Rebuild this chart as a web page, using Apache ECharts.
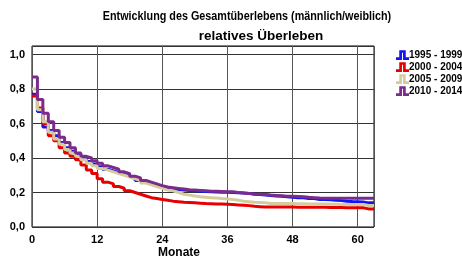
<!DOCTYPE html>
<html>
<head>
<meta charset="utf-8">
<script src="https://cdn.jsdelivr.net/npm/echarts@6/dist/echarts.min.js"></script>
<style>
  html, body { margin: 0; padding: 0; background: #fff; }
  #chart { width: 462px; height: 265px; }
</style>
</head>
<body>
<div id="chart"></div>
<script>
// Monate 0..63
var months = [];
for (var m = 0; m <= 63; m++) months.push(m);

var xTicks = [0, 12, 24, 36, 48, 60];
var yTicks = [0, 0.2, 0.4, 0.6, 0.8, 1.0];

var legendNames = ['1995 - 1999', '2000 - 2004', '2005 - 2009', '2010 - 2014'];

var s1995 = [0.77, 0.67, 0.58, 0.56, 0.53, 0.49, 0.46, 0.44, 0.42, 0.40, 0.38, 0.365,
  0.35, 0.335, 0.325, 0.315, 0.305, 0.295, 0.285, 0.27, 0.26, 0.25, 0.24, 0.23,
  0.225, 0.222, 0.218, 0.215, 0.212, 0.21, 0.208, 0.206, 0.204, 0.203, 0.202, 0.201,
  0.20, 0.198, 0.197, 0.195, 0.19, 0.188, 0.186, 0.183, 0.18, 0.178, 0.175, 0.172,
  0.17, 0.17, 0.165, 0.165, 0.16, 0.16, 0.158, 0.155, 0.153, 0.15, 0.148, 0.147,
  0.145, 0.14, 0.14, 0.14];

var s2000 = [0.76, 0.69, 0.60, 0.53, 0.50, 0.46, 0.43, 0.41, 0.39, 0.36, 0.33, 0.31,
  0.28, 0.26, 0.25, 0.235, 0.225, 0.21, 0.20, 0.19, 0.18, 0.17, 0.165, 0.16,
  0.155, 0.15, 0.147, 0.144, 0.142, 0.14, 0.138, 0.136, 0.135, 0.134, 0.133, 0.132,
  0.13, 0.128, 0.126, 0.124, 0.12, 0.118, 0.116, 0.116, 0.116, 0.116, 0.116, 0.116,
  0.115, 0.115, 0.115, 0.114, 0.114, 0.114, 0.113, 0.113, 0.113, 0.112, 0.112, 0.112,
  0.112, 0.105, 0.105, 0.105];

var s2005 = [0.80, 0.68, 0.61, 0.55, 0.51, 0.48, 0.45, 0.43, 0.41, 0.39, 0.37, 0.355,
  0.34, 0.33, 0.32, 0.31, 0.30, 0.29, 0.28, 0.27, 0.255, 0.245, 0.235, 0.225,
  0.215, 0.21, 0.20, 0.19, 0.185, 0.18, 0.175, 0.172, 0.17, 0.168, 0.165, 0.163,
  0.16, 0.155, 0.15, 0.147, 0.144, 0.142, 0.14, 0.137, 0.137, 0.137, 0.137, 0.137,
  0.135, 0.135, 0.134, 0.134, 0.133, 0.133, 0.132, 0.132, 0.131, 0.131, 0.13, 0.13,
  0.13, 0.125, 0.125, 0.125];

var s2010 = [0.87, 0.74, 0.66, 0.61, 0.56, 0.52, 0.49, 0.46, 0.43, 0.41, 0.40, 0.385,
  0.37, 0.355, 0.345, 0.335, 0.32, 0.31, 0.295, 0.285, 0.27, 0.26, 0.25, 0.24,
  0.232, 0.228, 0.224, 0.22, 0.216, 0.214, 0.212, 0.21, 0.208, 0.207, 0.206, 0.205,
  0.204, 0.20, 0.197, 0.195, 0.192, 0.19, 0.188, 0.185, 0.183, 0.181, 0.179, 0.178,
  0.177, 0.175, 0.172, 0.17, 0.168, 0.167, 0.167, 0.167, 0.167, 0.167, 0.167, 0.167,
  0.167, 0.167, 0.167, 0.167];

var colors = ['#1414f0', '#e80000', '#d6cb9e', '#7a2b8c'];

// Stufensymbol der Legende
var stepIcon = 'path://M0,6.5 L3,6.5 L3,0 L9,0 L9,6.5 L12,6.5 L12,9 L6.5,9 L6.5,2.5 L5.5,2.5 L5.5,9 L0,9 Z';

function pairs(vals) {
  return months.map(function (m, i) { return [m, vals[i]]; });
}

function fmt(v) {
  return v.toFixed(1).replace('.', ',');
}

var chart = echarts.init(document.getElementById('chart'));

var seriesData = [s1995, s2000, s2005, s2010];

chart.setOption({
  animation: false,
  textStyle: { fontFamily: 'Liberation Sans, Arial' },
  legend: {
    orient: 'vertical',
    left: 396,
    top: 50,
    padding: 0,
    itemWidth: 13,
    itemHeight: 10,
    itemGap: 2,
    icon: stepIcon,
    data: legendNames,
    textStyle: { fontSize: 10, fontWeight: 'bold', color: '#000', padding: [0, 0, 0, -5] }
  },
  grid: {
    left: 32,
    right: 88,
    top: 46,
    bottom: 38,
    show: true,
    borderColor: '#000',
    borderWidth: 1
  },
  graphic: [{
    type: 'text',
    x: 247,
    y: 23,
    scaleX: 0.83,
    style: {
      text: 'Entwicklung des Gesamtüberlebens (männlich/weiblich)',
      font: 'bold 13px Liberation Sans, Arial', fill: '#000',
      textAlign: 'center', textVerticalAlign: 'bottom'
    }
  }, {
    type: 'text',
    x: 261,
    y: 43,
    style: {
      text: 'relatives Überleben',
      font: 'bold 13.5px Liberation Sans, Arial', fill: '#000',
      textAlign: 'center', textVerticalAlign: 'bottom'
    }
  }, {
    type: 'text',
    x: 158,
    y: 247,
    style: { text: 'Monate', font: 'bold 12px Liberation Sans, Arial', fill: '#000' }
  }],
  xAxis: {
    type: 'value',
    min: 0,
    max: 63,
    interval: 12,
    axisLine: { show: false },
    axisTick: { show: false },
    axisLabel: {
      color: '#000', fontSize: 11, fontWeight: 'bold', margin: 7,
      showMaxLabel: false,
      formatter: function (v) { return xTicks.indexOf(v) >= 0 ? String(v) : ''; }
    },
    splitLine: { show: true, lineStyle: { color: '#555', width: 1 } }
  },
  yAxis: {
    type: 'value',
    min: 0,
    max: 1.05,
    interval: 0.2,
    axisLine: { show: false },
    axisTick: { show: false },
    axisLabel: {
      color: '#000', fontSize: 11, fontWeight: 'bold', margin: 7,
      showMaxLabel: false,
      formatter: function (v) {
        for (var i = 0; i < yTicks.length; i++) {
          if (Math.abs(yTicks[i] - v) < 1e-6) return fmt(v);
        }
        return '';
      }
    },
    splitLine: { show: true, lineStyle: { color: '#333', width: 1 } }
  },
  series: seriesData.map(function (vals, i) {
    return {
      name: legendNames[i],
      type: 'line',
      step: 'end',
      showSymbol: false,
      symbol: 'none',
      data: pairs(vals),
      color: colors[i],
      lineStyle: { color: colors[i], width: 3 },
      z: 2 + i
    };
  })
});
</script>
</body>
</html>
